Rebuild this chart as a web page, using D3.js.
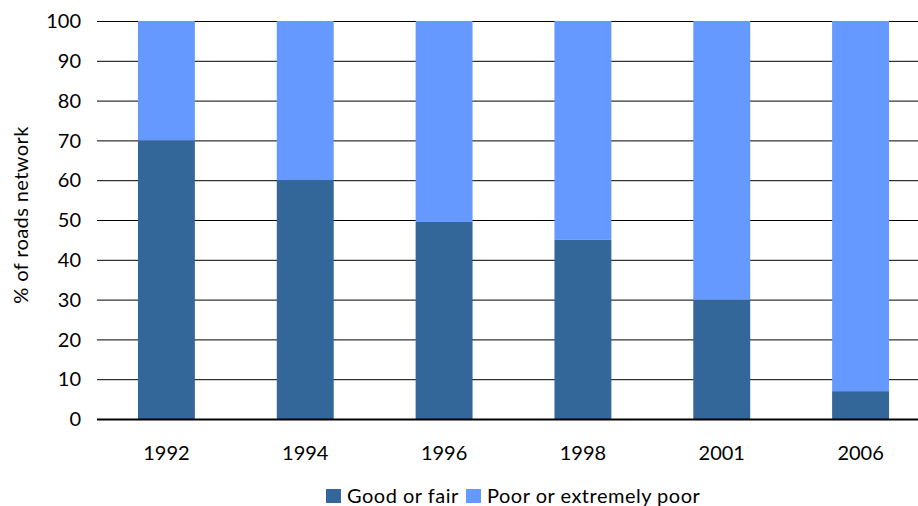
<!DOCTYPE html>
<html><head><meta charset="utf-8">
<script src="https://cdn.jsdelivr.net/npm/d3@7"></script>
<style>html,body{margin:0;padding:0;background:#fff;overflow:hidden}</style>
</head><body><svg id="c" width="918" height="506"></svg>
<script>
const years = ["1992","1994","1996","1998","2001","2006"];
const goodOrFair = [70, 60, 49.5, 45, 30, 7];
const poorOrExtremelyPoor = [30, 40, 50.5, 55, 70, 93];
const yTicks = [0,10,20,30,40,50,60,70,80,90,100];
const seriesNames = ["Good or fair", "Poor or extremely poor"];
const colors = ["#336699", "#6699ff"];

const font = "Lato, 'Open Sans', sans-serif";
const svg = d3.select("#c");
const x = d3.scaleBand().domain(years).range([97, 930]).paddingInner(0.59).paddingOuter(0.295);
const y = d3.scaleLinear().domain([0,100]).range([419, 21]);

// gridlines
svg.append("g").selectAll("line").data(yTicks.filter(d=>d>0)).join("line")
  .attr("x1", 97).attr("x2", 930).attr("y1", d=>y(d)+0.5).attr("y2", d=>y(d)+0.5)
  .attr("stroke", "#000").attr("stroke-width", 1);

const rows = years.map((yr,i)=>({year:yr, good:goodOrFair[i], poor:poorOrExtremelyPoor[i]}));
const stack = d3.stack().keys(["good","poor"])(rows);
svg.append("g").selectAll("g").data(stack).join("g").attr("fill",(d,i)=>colors[i])
  .selectAll("rect").data(d=>d).join("rect")
  .attr("x", d=>x(d.data.year)).attr("width", x.bandwidth())
  .attr("y", d=>y(Math.min(100,d[1]))).attr("height", d=>y(d[0])-y(Math.min(100,d[1])));

// zero axis line
svg.append("line").attr("x1",97).attr("x2",930).attr("y1",y(0)+0.5).attr("y2",y(0)+0.5)
  .attr("stroke","#000").attr("stroke-width",2);

// y tick labels
svg.append("g").selectAll("text").data(yTicks).join("text")
  .attr("x", 81).attr("y", d=>y(d)).attr("dy","0.36em").attr("text-anchor","end")
  .attr("font-family", font).attr("font-size", 20).attr("fill","#000").text(d=>d);

// x labels
svg.append("g").selectAll("text").data(years).join("text")
  .attr("x", d=>x(d)+x.bandwidth()/2).attr("y", 460).attr("text-anchor","middle")
  .attr("font-family", font).attr("font-size", 20).attr("fill","#000").text(d=>d);

// y axis title
svg.append("text").attr("transform","translate(28,215) rotate(-90)").attr("text-anchor","middle")
  .attr("font-family", font).attr("font-size", 20).attr("letter-spacing", 0.4)
  .attr("fill","#000").text("% of roads network");

// legend
const legX = [326, 466];
const lg = svg.append("g").selectAll("g").data(seriesNames).join("g")
  .attr("transform",(d,i)=>`translate(${legX[i]},489)`);
lg.append("rect").attr("width",15).attr("height",14).attr("fill",(d,i)=>colors[i]);
lg.append("text").attr("x",21).attr("y",14).attr("font-family",font).attr("font-size",20)
  .attr("letter-spacing", 0.5).attr("fill","#000").text(d=>d);
</script></body></html>
